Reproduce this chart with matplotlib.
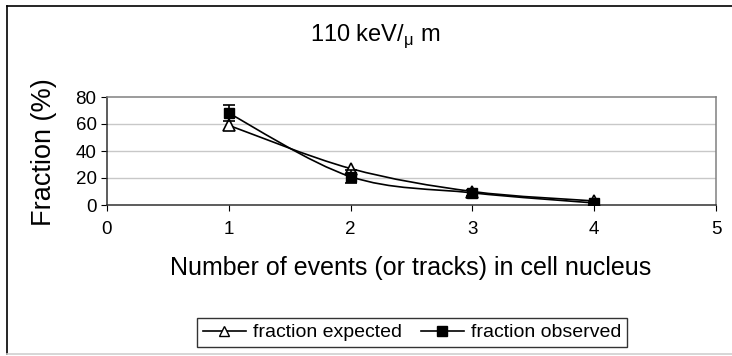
import numpy as np
import matplotlib
matplotlib.use("Agg")
import matplotlib.pyplot as plt
from matplotlib.path import Path
from matplotlib.patches import PathPatch
from matplotlib.lines import Line2D

plt.rcParams['font.family'] = ['Liberation Sans', 'DejaVu Sans']

# Datos: número de eventos y fracciones (%)
eventos = [1, 2, 3, 4]
fraccion_esperada = [59, 27, 10, 3]
fraccion_observada = [68, 21, 9, 1.5]
error_observada = [6, 5, 2, 1]


def curva_suave(x, y):
    # Curva suavizada tipo Catmull-Rom convertida a segmentos Bezier
    pts = np.column_stack([x, y]).astype(float)
    ext = np.vstack([pts[0], pts, pts[-1]])
    verts = [pts[0]]
    codes = [Path.MOVETO]
    for i in range(1, len(ext) - 2):
        p0, p1, p2, p3 = ext[i - 1], ext[i], ext[i + 1], ext[i + 2]
        c1 = p1 + (p2 - p0) / 6.0
        c2 = p2 - (p3 - p1) / 6.0
        verts += [c1, c2, p2]
        codes += [Path.CURVE4] * 3
    return Path(verts, codes)


fig = plt.figure(figsize=(7.32, 3.56), dpi=100)
W, H = 732, 356

# Marco exterior del gráfico
fig.add_artist(Line2D([7 / W, 7 / W], [1 - 6 / H, 1 - 354 / H], color='black', lw=1.2, transform=fig.transFigure))
fig.add_artist(Line2D([7 / W, 1.0], [1 - 6 / H, 1 - 6 / H], color='black', lw=1.2, transform=fig.transFigure))
fig.add_artist(Line2D([7 / W, 1.0], [1 - 354 / H, 1 - 354 / H], color='#d0d0d0', lw=1.2, transform=fig.transFigure))

ax = fig.add_axes([107 / W, 1 - 205 / H, 609 / W, 108 / H])
ax.set_xlim(0, 5)
ax.set_ylim(0, 80)
ax.set_xticks([0, 1, 2, 3, 4, 5])
ax.set_yticks([0, 20, 40, 60, 80])
ax.tick_params(axis='both', labelsize=13.5, direction='out', length=4.5, width=0.8, colors='black')
ax.tick_params(axis='x', pad=7)
ax.tick_params(axis='y', pad=3)

for y in [20, 40, 60]:
    ax.axhline(y, color='#c8c8c8', lw=1.0, zorder=0)
ax.spines['top'].set_color('#808080')
ax.spines['right'].set_color('#808080')
ax.spines['left'].set_color('#303030')
ax.spines['bottom'].set_color('#303030')
for s in ax.spines.values():
    s.set_linewidth(1.1)

# Curvas suavizadas
ax.add_patch(PathPatch(curva_suave(eventos, fraccion_esperada), fill=False, ec='black', lw=1.2, zorder=3))
ax.add_patch(PathPatch(curva_suave(eventos, fraccion_observada), fill=False, ec='black', lw=1.2, zorder=3))

# Marcadores y barras de error
ax.plot(eventos, fraccion_esperada, ls='none', marker='^', ms=8, mfc='white', mec='black', mew=1.2, zorder=4)
ax.errorbar(eventos, fraccion_observada, yerr=error_observada, fmt='s', ms=7.5, mfc='black', mec='black',
            ecolor='black', elinewidth=1.2, capsize=4, capthick=1.2, zorder=5)

# Textos
fig.text(375 / W, 1 - 36 / H, r'110 keV/$_{\mathregular{μ}}$ m', fontsize=17, ha='center', va='center')
fig.text(44 / W, 1 - 152 / H, 'Fraction (%)', fontsize=19.5, rotation=90, ha='center', va='center')
fig.text(411 / W, 1 - 268 / H, 'Number of events (or tracks) in cell nucleus', fontsize=18, ha='center', va='center')

# Leyenda
h1 = Line2D([], [], color='black', lw=1.2, marker='^', ms=6.5, mfc='white', mec='black')
h2 = Line2D([], [], color='black', lw=1.2, marker='s', ms=6.5, mfc='black', mec='black')
leg = fig.legend([h1, h2], ['fraction expected', 'fraction observed'], loc='center',
                 bbox_to_anchor=(412 / W, 1 - 332.5 / H), ncol=2, fontsize=14, frameon=True,
                 fancybox=False, edgecolor='black', handlelength=2.2, handletextpad=0.35,
                 columnspacing=1.0, borderpad=0.3)
leg.get_frame().set_linewidth(1.0)

fig.savefig('out.png', dpi=100)
